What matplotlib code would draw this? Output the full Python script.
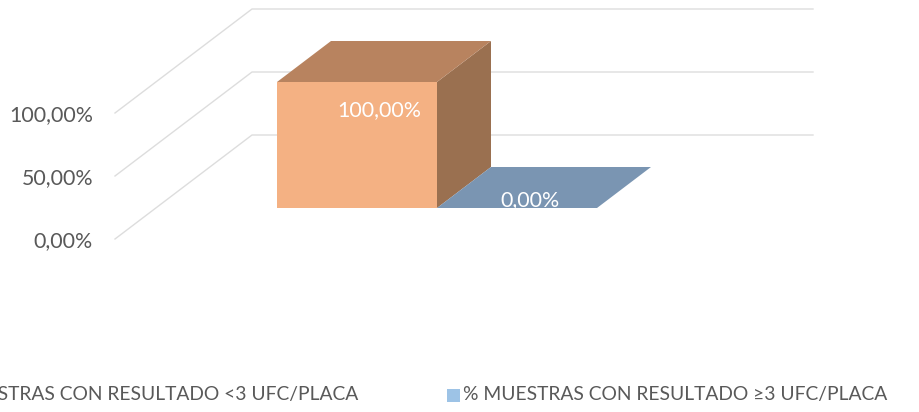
import matplotlib
matplotlib.use('Agg')
import matplotlib.pyplot as plt
from matplotlib.patches import Polygon, Rectangle

plt.rcParams['font.family'] = ['Lato', 'DejaVu Sans']

series = ['% MUESTRAS CON RESULTADO <3 UFC/PLACA', '% MUESTRAS CON RESULTADO ≥3 UFC/PLACA']
values = [100.0, 0.0]
value_labels = ['100,00%', '0,00%']
ticks = [0, 50, 100]
tick_labels = ['0,00%', '50,00%', '100,00%']

FRONT = ['#F4B183', '#9DC3E6']
TOP = ['#B8835F', '#7A95B2']
SIDE = ['#9A7050', '#6F8AA6']
GRID = '#DDDDDD'
TEXT = '#595959'

# fake 3D: everything is placed in pixels, value -> y through a linear scale
Y0_BAR, Y0_WALL, PX_PER_UNIT = 208, 135, 1.26
DX, DY = 54, 41
WALL_X0, WALL_X1, WALL_DX, WALL_DY = 252, 813, 137, 104
BAR_X = [277, 437]
BAR_W = 160

fig = plt.figure(figsize=(9.19, 4.12), dpi=100)
ax = fig.add_axes([0, 0, 1, 1])
ax.set_xlim(0, 919); ax.set_ylim(412, 0); ax.axis('off')

for t, lab in zip(ticks, tick_labels):
    yw = Y0_WALL - t * PX_PER_UNIT
    ax.plot([WALL_X0 - WALL_DX, WALL_X0, WALL_X1], [yw + WALL_DY, yw, yw], color=GRID, lw=1.0, zorder=1)
    ax.text(93, yw + WALL_DY + 2.5, lab, ha='right', va='center', fontsize=15.4, color=TEXT)

for i, v in enumerate(values):
    x0, x1 = BAR_X[i], BAR_X[i] + BAR_W
    yt = Y0_BAR - v * PX_PER_UNIT
    if v > 0:
        ax.add_patch(Polygon([(x1, yt), (x1 + DX, yt - DY), (x1 + DX, Y0_BAR - DY), (x1, Y0_BAR)],
                             color=SIDE[i], lw=0, zorder=2))
        ax.add_patch(Rectangle((x0, yt), BAR_W, v * PX_PER_UNIT, color=FRONT[i], lw=0, zorder=3))
    ax.add_patch(Polygon([(x0, yt), (x1, yt), (x1 + DX, yt - DY), (x0 + DX, yt - DY)],
                         color=TOP[i], lw=0, zorder=3))

ax.text(379.5, 110.5, value_labels[0], ha='center', va='center', fontsize=15.4, color='white', zorder=5)
ax.text(530, 200.5, value_labels[1], ha='center', va='center', fontsize=15.4, color='white', zorder=5)

# legend runs off the left edge in the original
ax.text(358, 394.5, series[0], ha='right', va='center', fontsize=13.9, color=TEXT, clip_on=True)
ax.add_patch(Rectangle((447, 389), 13, 13, color=FRONT[1], lw=0))
ax.text(463, 394.5, series[1], ha='left', va='center', fontsize=13.9, color=TEXT)

fig.savefig('out.png', dpi=100)
